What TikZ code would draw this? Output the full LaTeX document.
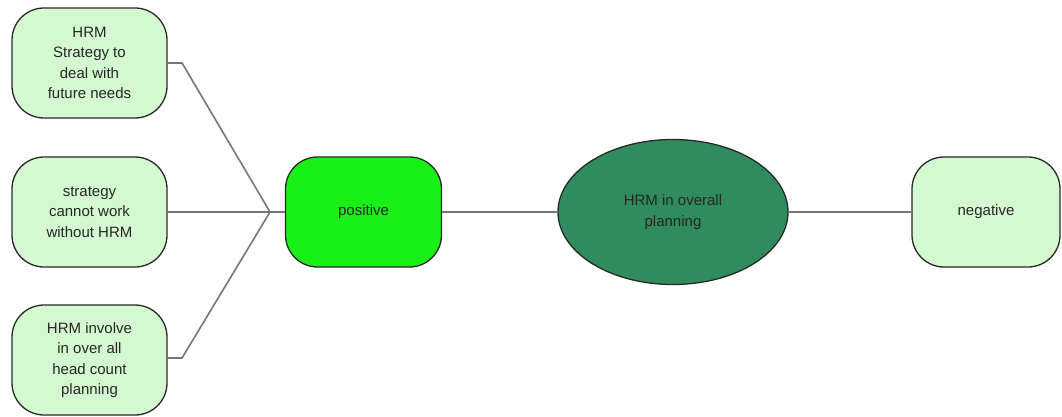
\documentclass[tikz,border=0pt]{standalone}
\usepackage{fontspec}
\setmainfont{Liberation Sans}
\usetikzlibrary{shapes.geometric}
\definecolor{palegreen}{RGB}{212,248,208}
\definecolor{brightgreen}{RGB}{24,240,24}
\definecolor{seagreen}{RGB}{48,140,94}
\definecolor{linkgray}{RGB}{118,118,118}
\definecolor{edgedark}{RGB}{40,40,40}
\tikzset{
  topic/.style={draw=edgedark, line width=1.3pt, rounded corners=32pt,
    minimum width=155pt, minimum height=110pt, align=center,
    font=\fontsize{15}{20.5}\selectfont, text=black!85},
  leaf/.style={topic, fill=palegreen},
  hub/.style={topic, fill=brightgreen, minimum width=156pt},
  core/.style={ellipse, draw=edgedark, line width=1.3pt, fill=seagreen,
    minimum width=230pt, minimum height=145pt, inner sep=0pt, align=center,
    font=\fontsize{15}{20.5}\selectfont, text=black!85},
  link/.style={draw=linkgray, line width=1.6pt}
}
\begin{document}
\begin{tikzpicture}[x=1pt, y=-1pt]
  \useasboundingbox (0,0) rectangle (1062,417);
  % left column of reasons
  \node[leaf] (r1) at (89.5,63) {HRM\\Strategy to\\deal with\\future needs};
  \node[leaf] (r2) at (89.5,212) {strategy\\cannot work\\without HRM};
  \node[leaf] (r3) at (89.5,360) {HRM involve\\in over all\\head count\\planning};
  % central chain
  \node[hub] (pos) at (363.5,212) {positive};
  \node[core] (core) at (673,212) {\raisebox{-4pt}{\parbox{120pt}{\centering HRM in overall\\planning}}};
  \node[leaf, minimum width=148pt] (neg) at (986,212) {\raisebox{-2pt}{negative}};
  % fan-in junction
  \coordinate (j) at (270,212);
  \coordinate (k1) at (182,63);
  \coordinate (k3) at (182,358);
  \draw[link] (r1.east |- k1) -- (k1) -- (j);
  \draw[link] (r2.east) -- (j);
  \draw[link] (r3.east |- k3) -- (k3) -- (j);
  \draw[link] (j) -- (pos.west);
  \draw[link] (pos.east) -- (core.west);
  \draw[link] (core.east) -- (neg.west);
\end{tikzpicture}
\end{document}
